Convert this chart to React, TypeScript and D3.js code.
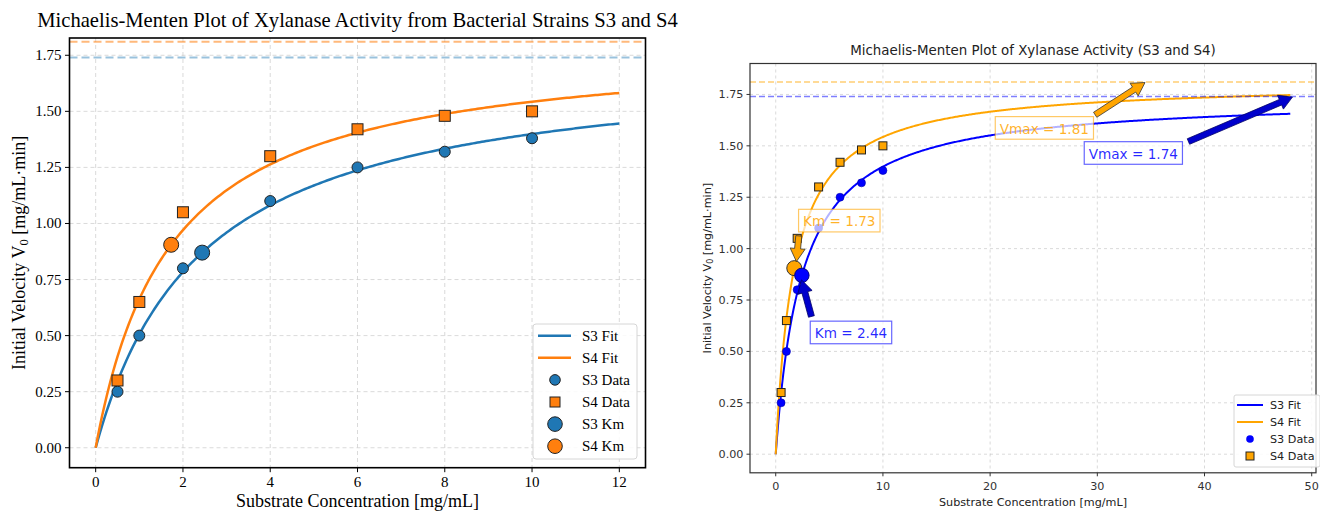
import * as d3 from "d3";

// measured substrate concentrations and initial velocities
const substrate = [0.5, 1, 2, 4, 6, 8, 10];
const s3Velocity = [0.25, 0.5, 0.8, 1.1, 1.25, 1.32, 1.38];
const s4Velocity = [0.3, 0.65, 1.05, 1.3, 1.42, 1.48, 1.5];

// fitted Michaelis-Menten parameters
const s3Vmax = 1.74;
const s3Km = 2.44;
const s4Vmax = 1.81;
const s4Km = 1.73;

// tick labels
const leftXTicks = [0, 2, 4, 6, 8, 10, 12];
const rightXTicks = [0, 10, 20, 30, 40, 50];
const yTicks = [0, 0.25, 0.5, 0.75, 1.0, 1.25, 1.5, 1.75];

const mm = (s: number, vmax: number, km: number) => (vmax * s) / (km + s);

// substrate grids the fitted curves are evaluated on
const leftFitGrid = d3.range(0, 12.0001, 0.05);
const rightFitGrid = d3.range(0, 48.0001, 0.1);

let measureCtx: CanvasRenderingContext2D | null = null;
function textWidth(s: string, font: string) {
  if (!measureCtx) measureCtx = document.createElement("canvas").getContext("2d");
  if (!measureCtx) return s.length * 7;
  measureCtx.font = font;
  return measureCtx.measureText(s).width;
}

function arrowPoints(x1: number, y1: number, x2: number, y2: number, w: number, hw: number, hl: number) {
  const dx = x2 - x1, dy = y2 - y1;
  const len = Math.hypot(dx, dy);
  const ux = dx / len, uy = dy / len;
  const px = -uy, py = ux;
  const h = Math.min(hl, len * 0.75);
  const bx = x2 - ux * h, by = y2 - uy * h;
  const pts = [
    [x1 + (px * w) / 2, y1 + (py * w) / 2],
    [bx + (px * w) / 2, by + (py * w) / 2],
    [bx + (px * hw) / 2, by + (py * hw) / 2],
    [x2, y2],
    [bx - (px * hw) / 2, by - (py * hw) / 2],
    [bx - (px * w) / 2, by - (py * w) / 2],
    [x1 - (px * w) / 2, y1 - (py * w) / 2],
  ];
  return pts.map((p) => p.join(",")).join(" ");
}

const SERIF = "'Liberation Serif', 'Times New Roman', serif";
const SANS = "'DejaVu Sans', sans-serif";

function LeftPanel() {
  const box = { left: 69.5, right: 645.5, top: 38, bottom: 467.7 };
  const x = d3.scaleLinear().domain([-0.6, 12.6]).range([box.left, box.right]);
  const y = d3.scaleLinear().domain([-0.089, 1.827]).range([box.bottom, box.top]);
  const blue = "#1f77b4";
  const orange = "#ff7f0e";

  const fit = (vmax: number, km: number) =>
    d3.line<number>().x((s) => x(s)).y((s) => y(mm(s, vmax, km)))(leftFitGrid) || "";

  const legendRows = [
    { label: "S3 Fit", kind: "line", color: blue },
    { label: "S4 Fit", kind: "line", color: orange },
    { label: "S3 Data", kind: "circle", color: blue },
    { label: "S4 Data", kind: "square", color: orange },
    { label: "S3 Km", kind: "big", color: blue },
    { label: "S4 Km", kind: "big", color: orange },
  ];

  return (
    <g fontFamily={SERIF}>
      <text x={357.5} y={27} textAnchor="middle" fontSize={20.6} fill="#000">
        Michaelis-Menten Plot of Xylanase Activity from Bacterial Strains S3 and S4
      </text>

      {/* grid */}
      {leftXTicks.map((t) => (
        <line key={"gx" + t} x1={x(t)} x2={x(t)} y1={box.top} y2={box.bottom}
          stroke="#d0d0d0" strokeWidth={0.8} strokeDasharray="4,3" />
      ))}
      {yTicks.map((t) => (
        <line key={"gy" + t} x1={box.left} x2={box.right} y1={y(t)} y2={y(t)}
          stroke="#d0d0d0" strokeWidth={0.8} strokeDasharray="4,3" />
      ))}

      {/* Vmax reference lines */}
      <line x1={box.left} x2={box.right} y1={y(s3Vmax)} y2={y(s3Vmax)}
        stroke={blue} strokeOpacity={0.45} strokeWidth={2} strokeDasharray="8,4" />
      <line x1={box.left} x2={box.right} y1={y(s4Vmax)} y2={y(s4Vmax)}
        stroke={orange} strokeOpacity={0.55} strokeWidth={2} strokeDasharray="8,4" />

      {/* fits */}
      <path d={fit(s3Vmax, s3Km)} fill="none" stroke={blue} strokeWidth={2.5} />
      <path d={fit(s4Vmax, s4Km)} fill="none" stroke={orange} strokeWidth={2.5} />

      {/* data */}
      {substrate.map((s, i) => (
        <circle key={"c" + i} cx={x(s)} cy={y(s3Velocity[i])} r={5.5}
          fill={blue} stroke="#222" strokeWidth={1} />
      ))}
      {substrate.map((s, i) => (
        <rect key={"r" + i} x={x(s) - 5.5} y={y(s4Velocity[i]) - 5.5} width={11} height={11}
          fill={orange} stroke="#222" strokeWidth={1} />
      ))}
      <circle cx={x(s3Km)} cy={y(s3Vmax / 2)} r={7.5} fill={blue} stroke="#222" strokeWidth={1} />
      <circle cx={x(s4Km)} cy={y(s4Vmax / 2)} r={7.5} fill={orange} stroke="#222" strokeWidth={1} />

      {/* spines */}
      <rect x={box.left} y={box.top} width={box.right - box.left} height={box.bottom - box.top}
        fill="none" stroke="#000" strokeWidth={1.6} />

      {/* ticks */}
      {leftXTicks.map((t) => (
        <g key={"tx" + t}>
          <line x1={x(t)} x2={x(t)} y1={box.bottom} y2={box.bottom + 4.5} stroke="#000" strokeWidth={1} />
          <text x={x(t)} y={487} textAnchor="middle" fontSize={15}>{t}</text>
        </g>
      ))}
      {yTicks.map((t) => (
        <g key={"ty" + t}>
          <line x1={box.left - 4.5} x2={box.left} y1={y(t)} y2={y(t)} stroke="#000" strokeWidth={1} />
          <text x={box.left - 8} y={y(t) + 5} textAnchor="end" fontSize={15}>{t.toFixed(2)}</text>
        </g>
      ))}

      <text x={357.5} y={507} textAnchor="middle" fontSize={18}>Substrate Concentration [mg/mL]</text>
      <text transform={`translate(25,${(box.top + box.bottom) / 2}) rotate(-90)`} textAnchor="middle" fontSize={18}>
        Initial Velocity V<tspan fontSize={12.5} dy={3}>0</tspan><tspan dy={-3}> [mg/mL·min]</tspan>
      </text>

      {/* legend */}
      <rect x={533} y={324} width={104} height={135} rx={3} fill="#fff" fillOpacity={0.85}
        stroke="#d6d6d6" strokeWidth={1} />
      {legendRows.map((d, i) => {
        const cy = 335.7 + i * 22.1;
        return (
          <g key={d.label}>
            {d.kind === "line" && <line x1={538} x2={571} y1={cy} y2={cy} stroke={d.color} strokeWidth={2.5} />}
            {d.kind === "circle" && <circle cx={555} cy={cy} r={5.3} fill={d.color} stroke="#222" strokeWidth={1} />}
            {d.kind === "square" && <rect x={550} y={cy - 5} width={10} height={10} fill={d.color} stroke="#222" strokeWidth={1} />}
            {d.kind === "big" && <circle cx={555} cy={cy} r={7.3} fill={d.color} stroke="#222" strokeWidth={1} />}
            <text x={582} y={cy + 5} fontSize={15}>{d.label}</text>
          </g>
        );
      })}
    </g>
  );
}

function RightPanel() {
  const box = { left: 750, right: 1316, top: 63.5, bottom: 472.8 };
  const x = d3.scaleLinear().domain([-2.4, 50.4]).range([box.left, box.right]);
  const y = d3.scaleLinear().domain([-0.0905, 1.9005]).range([box.bottom, box.top]);
  const blue = "#0000ff";
  const orange = "#ffa500";
  const tickColor = "#333";
  const fs = 11.2;

  const fit = (vmax: number, km: number) =>
    d3.line<number>().x((s) => x(s)).y((s) => y(mm(s, vmax, km)))(rightFitGrid) || "";

  const notes = [
    { text: `Vmax = ${s4Vmax.toFixed(2)}`, color: orange, at: [20.9, 1.559], tail: [29.8, 1.651], tip: [34.45, 1.808] },
    { text: `Vmax = ${s3Vmax.toFixed(2)}`, color: blue, at: [29.2, 1.437], tail: [38.5, 1.521], tip: [48.2, 1.737] },
    { text: `Km = ${s4Km.toFixed(2)}`, color: orange, at: [2.55, 1.108], tail: [2.15, 1.062], tip: [1.93, 0.937] },
    { text: `Km = ${s3Km.toFixed(2)}`, color: blue, at: [3.64, 0.564], tail: [3.33, 0.67], tip: [2.4, 0.848] },
  ];
  const noteSize = 13.6;

  const legendRows = [
    { label: "S3 Fit", kind: "line", color: blue },
    { label: "S4 Fit", kind: "line", color: orange },
    { label: "S3 Data", kind: "circle", color: blue },
    { label: "S4 Data", kind: "square", color: orange },
  ];

  return (
    <g fontFamily={SANS}>
      <text x={(box.left + box.right) / 2} y={55} textAnchor="middle" fontSize={13.4} fill="#222">
        Michaelis-Menten Plot of Xylanase Activity (S3 and S4)
      </text>

      {rightXTicks.map((t) => (
        <line key={"gx" + t} x1={x(t)} x2={x(t)} y1={box.top} y2={box.bottom}
          stroke="#b0b0b0" strokeOpacity={0.6} strokeWidth={0.8} strokeDasharray="3,3" />
      ))}
      {yTicks.map((t) => (
        <line key={"gy" + t} x1={box.left} x2={box.right} y1={y(t)} y2={y(t)}
          stroke="#b0b0b0" strokeOpacity={0.6} strokeWidth={0.8} strokeDasharray="3,3" />
      ))}

      <path d={fit(s3Vmax, s3Km)} fill="none" stroke={blue} strokeWidth={2} />
      <path d={fit(s4Vmax, s4Km)} fill="none" stroke={orange} strokeWidth={2} />

      <line x1={box.left} x2={box.right} y1={y(s4Vmax)} y2={y(s4Vmax)}
        stroke={orange} strokeOpacity={0.55} strokeWidth={1.5} strokeDasharray="6,3" />
      <line x1={box.left} x2={box.right} y1={y(s3Vmax)} y2={y(s3Vmax)}
        stroke={blue} strokeOpacity={0.5} strokeWidth={1.5} strokeDasharray="6,3" />

      {substrate.map((s, i) => (
        <circle key={"c" + i} cx={x(s)} cy={y(s3Velocity[i])} r={4} fill={blue} stroke="#0000aa" strokeWidth={0.6} />
      ))}
      {substrate.map((s, i) => (
        <rect key={"r" + i} x={x(s) - 4} y={y(s4Velocity[i]) - 4} width={8} height={8}
          fill={orange} stroke="#222" strokeWidth={1} />
      ))}
      <circle cx={x(s4Km)} cy={y(s4Vmax / 2)} r={7.5} fill={orange} stroke="#333" strokeWidth={1} />
      <circle cx={x(s3Km)} cy={y(s3Vmax / 2)} r={7.2} fill={blue} stroke="#000080" strokeWidth={1} />

      {notes.map((n) => {
        const tx = x(n.at[0]);
        const ty = y(n.at[1]);
        const w = textWidth(n.text, `${noteSize}px 'DejaVu Sans'`);
        return (
          <g key={n.text}>
            <rect x={tx - 4.5} y={ty - noteSize - 3.5} width={w + 9} height={noteSize + 9}
              fill="#fff" fillOpacity={0.7} stroke={n.color} strokeOpacity={0.6} strokeWidth={1.2} />
            <text x={tx} y={ty} fontSize={noteSize} fill={n.color} fillOpacity={0.85}>{n.text}</text>
            <polygon points={arrowPoints(x(n.tail[0]), y(n.tail[1]), x(n.tip[0]), y(n.tip[1]), 6, 15, 13)}
              fill={n.color === blue ? "#0000cc" : orange} stroke={n.color === blue ? "#000066" : "#333"}
              strokeWidth={0.8} strokeLinejoin="miter" />
          </g>
        );
      })}

      <rect x={box.left} y={box.top} width={box.right - box.left} height={box.bottom - box.top}
        fill="none" stroke="#333" strokeWidth={1.2} />

      {rightXTicks.map((t) => (
        <g key={"tx" + t}>
          <line x1={x(t)} x2={x(t)} y1={box.bottom} y2={box.bottom + 3.5} stroke={tickColor} strokeWidth={1} />
          <text x={x(t)} y={490} textAnchor="middle" fontSize={fs} fill={tickColor}>{t}</text>
        </g>
      ))}
      {yTicks.map((t) => (
        <g key={"ty" + t}>
          <line x1={box.left - 3.5} x2={box.left} y1={y(t)} y2={y(t)} stroke={tickColor} strokeWidth={1} />
          <text x={box.left - 6.5} y={y(t) + 4} textAnchor="end" fontSize={fs} fill={tickColor}>{t.toFixed(2)}</text>
        </g>
      ))}

      <text x={(box.left + box.right) / 2} y={505.5} textAnchor="middle" fontSize={fs} fill="#222">
        Substrate Concentration [mg/mL]
      </text>
      <text transform={`translate(711,${(box.top + box.bottom) / 2}) rotate(-90)`} textAnchor="middle"
        fontSize={fs} fill="#222">
        Initial Velocity V<tspan fontSize={8} dy={2}>0</tspan><tspan dy={-2}> [mg/mL·min]</tspan>
      </text>

      <rect x={1234} y={395} width={86} height={72} rx={2} fill="#fff" fillOpacity={0.85}
        stroke="#d6d6d6" strokeWidth={1} />
      {legendRows.map((d, i) => {
        const cy = 405 + i * 17;
        return (
          <g key={d.label}>
            {d.kind === "line" && <line x1={1237} x2={1263} y1={cy} y2={cy} stroke={d.color} strokeWidth={2} />}
            {d.kind === "circle" && <circle cx={1250} cy={cy} r={3.8} fill={d.color} />}
            {d.kind === "square" && <rect x={1246} y={cy - 4} width={8} height={8} fill={d.color} stroke="#222" strokeWidth={1} />}
            <text x={1270} y={cy + 4} fontSize={fs} fill="#222">{d.label}</text>
          </g>
        );
      })}
    </g>
  );
}

export default function App() {
  return (
    <svg width={1320} height={511} style={{ position: "absolute", left: 0, top: 0, background: "#fff" }}>
      <rect width={1320} height={511} fill="#fff" />
      <LeftPanel />
      <RightPanel />
    </svg>
  );
}
